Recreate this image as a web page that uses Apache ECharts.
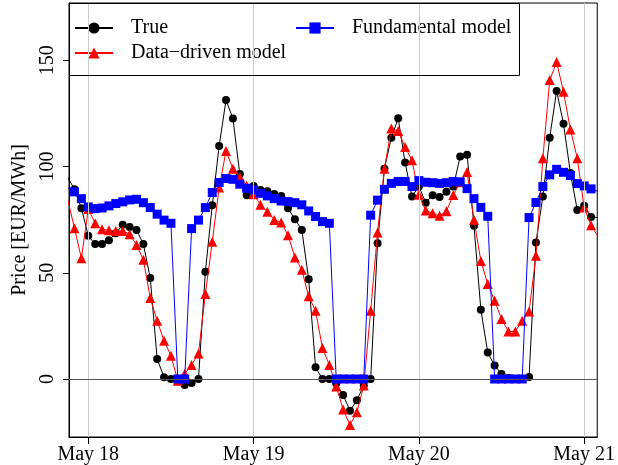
<!DOCTYPE html>
<html>
<head>
<meta charset="utf-8">
<script src="https://cdn.jsdelivr.net/npm/echarts@6/dist/echarts.min.js"></script>
<style>
  html, body { margin: 0; padding: 0; background: #fff; }
  #chart { width: 618px; height: 465px; }
</style>
</head>
<body>
<div id="chart"></div>
<script>
// hours counted from May 18 00:00
const hours = [-3, -2, -1, 0, 1, 2, 3, 4, 5, 6, 7, 8, 9, 10, 11, 12, 13, 14, 15, 16,
  17, 18, 19, 20, 21, 22, 23, 24, 25, 26, 27, 28, 29, 30, 31, 32, 33, 34, 35, 36,
  37, 38, 39, 40, 41, 42, 43, 44, 45, 46, 47, 48, 49, 50, 51, 52, 53, 54, 55, 56,
  57, 58, 59, 60, 61, 62, 63, 64, 65, 66, 67, 68, 69, 70, 71, 72, 73, 74];

const truePrice = [95, 89.3, 80.4, 67.4, 63.5, 63.5, 65.3, 68.6, 72.6, 71.6, 70.2, 63.5, 47.5, 9.4,
  0.8, 0, -1, -2.8, -1.9, 0, 50.5, 81.8, 109.7, 131.3, 122.6, 96.5, 86.5, 90.9, 89, 88.4,
  87.1, 86.2, 80.4, 75.2, 70.2, 47, 5.5, 0, 0, -2, -7.5, -14.9, -10, -3, 0, 63.9,
  99, 113.6, 122.7, 101.9, 85.9, 90.6, 83, 86.5, 85.7, 88.1, 90.6, 104.7, 105.6, 72.1,
  32.6, 12.5, 6.3, 2.4, 0.5, 0, 0, 1, 64.3, 85.9, 113.6, 135.6, 120.2, 97, 79.6, 81.5,
  76.3, 76];

const dataDriven = [84.6, 71, 56.8, 80, 73.3, 70.5, 70, 69.7, 69.7, 68.2, 63.1, 56.1, 38.1, 27.4,
  18, 11, -0.8, 2.5, 6.6, 12, 40, 64.6, 90.1, 107.3, 99, 95, 91, 87, 82, 78.7,
  74.9, 73.7, 67.7, 57.2, 51.4, 38.9, 32.1, 14.6, 6.6, -3.5, -14.4, -21.6, -15.7, -3.1, 32.1, 69,
  99, 117.9, 116.7, 109.2, 103, 86.7, 79.3, 78, 76.8, 79, 86.6, 92.6, 97.4, 75,
  55.6, 44.7, 36.8, 28.3, 22.4, 22.4, 27.4, 31.8, 58, 103.9, 140.7, 149.2, 135.2, 117.5, 103.9, 80.7,
  72.4, 67.1];

const fundamental = [90.1, 88.1, 84.9, 81, 80.2, 80.5, 81.5, 82.6, 83.4, 84.3, 84.6, 83, 80.7, 77.6,
  74.8, 73.3, 0, 0, 70.8, 74.8, 80.7, 87.8, 92.5, 94.4, 94, 91.7, 89.8, 89, 87.4, 86.2,
  84.9, 83.8, 83.5, 83, 82, 79.1, 76.5, 74.1, 73.3, 0, 0, 0, 0, 0, 77.1, 84.2,
  89.3, 92.1, 93, 93, 90.6, 93.4, 92.6, 92.4, 92.1, 92.4, 93, 92.8, 89.6, 84.9,
  80.8, 76.6, 0, 0, 0, 0, 0, 76, 83.1, 90.6, 96.1, 98.7, 97.3, 95.8, 92, 90.9,
  89.5, 88.3];

const dayTicks = [0, 24, 48, 72];
const dayLabels = ['May 18', 'May 19', 'May 20', 'May 21'];
const priceTicks = [0, 50, 100, 150];

const serif = 'Liberation Serif';

function pairs(values) {
    return hours.map((h, i) => [h, values[i]]);
}

const chart = echarts.init(document.getElementById('chart'), null, { renderer: 'canvas' });

const legendText = { color: '#000', fontFamily: serif, fontSize: 20, lineHeight: 20, padding: [0, 0, 0, 13] };

const option = {
    animation: false,
    backgroundColor: '#fff',
    textStyle: { fontFamily: serif },
    grid: {
        left: 69, right: 16, top: 3, bottom: 27,
        show: true, borderColor: '#000', borderWidth: 1, backgroundColor: 'transparent'
    },
    xAxis: {
        type: 'value',
        min: -2.8,
        max: 73.9,
        axisLine: { show: true, onZero: false, lineStyle: { color: '#000' } },
        axisTick: { show: true, length: 7, customValues: dayTicks, lineStyle: { color: '#000' } },
        axisLabel: {
            customValues: dayTicks,
            margin: 8,
            color: '#000',
            fontFamily: serif,
            fontSize: 20,
            formatter: v => dayLabels[dayTicks.indexOf(v)] || ''
        },
        splitLine: { show: false }
    },
    yAxis: {
        type: 'value',
        min: -27.3,
        max: 177,
        name: 'Price [EUR/MWh]',
        nameLocation: 'middle',
        nameGap: 30,
        nameTextStyle: { color: '#000', fontFamily: serif, fontSize: 20 },
        axisLine: { show: true, onZero: false, lineStyle: { color: '#000' } },
        axisTick: { show: true, length: 6, customValues: priceTicks, lineStyle: { color: '#000' } },
        axisLabel: {
            customValues: priceTicks,
            rotate: 90,
            margin: 11,
            color: '#000',
            fontFamily: serif,
            fontSize: 20
        },
        splitLine: { show: false }
    },
    legend: [
        {
            orient: 'vertical',
            left: 74, top: 18,
            padding: 0,
            itemGap: 5,
            itemWidth: 38, itemHeight: 14,
            data: ['True', 'Data\u2212driven model'],
            textStyle: legendText
        },
        {
            orient: 'vertical',
            left: 295, top: 18,
            padding: 0,
            itemWidth: 38, itemHeight: 14,
            data: ['Fundamental model'],
            textStyle: legendText
        }
    ],
    graphic: [
        {
            type: 'rect',
            silent: true,
            z: 50,
            shape: { x: 69.5, y: 3.5, width: 450, height: 72 },
            style: { fill: 'none', stroke: '#000', lineWidth: 1 }
        }
    ],
    series: [
        {
            // reference lines: day separators and zero
            type: 'line',
            data: [],
            z: 1,
            silent: true,
            markLine: {
                silent: true,
                symbol: 'none',
                label: { show: false },
                data: [
                    ...dayTicks.map(d => ({ xAxis: d, lineStyle: { color: '#cccccc', width: 1, type: 'solid' } })),
                    { yAxis: 0, lineStyle: { color: '#555555', width: 1.2, type: 'solid' } }
                ]
            }
        },
        {
            name: 'True',
            type: 'line',
            z: 2,
            data: pairs(truePrice),
            symbol: 'circle',
            symbolSize: 8,
            showAllSymbol: true,
            itemStyle: { color: '#000' },
            lineStyle: { color: '#000', width: 1 }
        },
        {
            name: 'Data\u2212driven model',
            type: 'line',
            z: 3,
            data: pairs(dataDriven),
            symbol: 'triangle',
            symbolSize: 10,
            showAllSymbol: true,
            itemStyle: { color: '#ff0000' },
            lineStyle: { color: '#ff0000', width: 1 }
        },
        {
            name: 'Fundamental model',
            type: 'line',
            z: 4,
            data: pairs(fundamental),
            symbol: 'rect',
            symbolSize: 9,
            showAllSymbol: true,
            itemStyle: { color: '#0000ff' },
            lineStyle: { color: '#0000ff', width: 1 }
        }
    ]
};

chart.setOption(option);

window.addEventListener('resize', function() {
    chart.resize();
});
</script>
</body>
</html>
